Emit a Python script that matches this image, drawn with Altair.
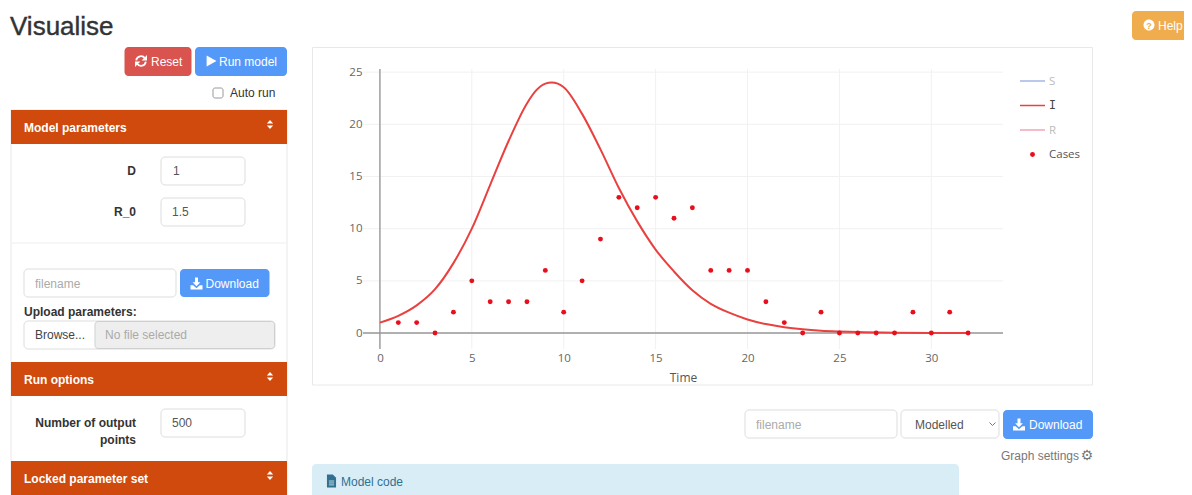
import altair as alt
import pandas as pd

# ---------- chart data ----------
curve_t = [0, 1, 2, 3, 4, 5, 6, 7, 8, 8.5, 9, 9.35, 10, 11, 12, 13, 14, 15, 16, 17, 18, 19, 20, 21, 22, 23, 24, 25,
           26, 28, 30, 32]
curve_i = [1, 1.65, 2.65, 4.2, 6.7, 10, 14.2, 18.4, 22.0, 23.25, 23.9, 24.0, 23.55, 21.0, 17.6, 13.9, 10.7, 8.0,
           5.9, 4.1, 2.8, 1.95, 1.3, 0.86, 0.56, 0.36, 0.23, 0.15, 0.09, 0.03, 0.01, 0.005]
case_t = list(range(1, 33))
case_n = [1, 1, 0, 2, 5, 3, 3, 3, 6, 2, 5, 9, 13, 12, 13, 11, 12, 6, 6, 6, 3, 1, 0, 2, 0, 0, 0, 0, 2, 0, 2, 0]
x_ticks = [0, 5, 10, 15, 20, 25, 30]
y_ticks = [0, 5, 10, 15, 20, 25]
zero = [0]

W, H = 1176, 487
UI = "Liberation Sans"
PLOT = "Open Sans"
ORANGE = "#cf4a0c"
BLUE = "#5599f8"
dummy = pd.DataFrame({"a": [0]})


def box(x1, y1, x2, y2, fill="#ffffff", stroke=None, r=0):
    kw = dict(fill=fill, cornerRadius=r)
    if stroke:
        kw.update(stroke=stroke, strokeWidth=1)
    return alt.Chart(dummy).mark_rect(**kw).encode(
        x=alt.value(x1 - 8), x2=alt.value(x2 - 8), y=alt.value(y1 - 8), y2=alt.value(y2 - 8))


def label(x, y, s, size=12, color="#333333", align="left", weight="normal", font=UI, **extra):
    return alt.Chart(dummy).mark_text(text=s, fontSize=size, color=color, align=align, baseline="middle",
                                      fontWeight=weight, font=font, **extra).encode(
        x=alt.value(x - 8), y=alt.value(y - 8))


def icon(x, y, path, px, fill=None, stroke=None, sw=1.5):
    kw = dict(shape=path, size=px * px, opacity=1)
    if fill:
        kw.update(filled=True, fill=fill, strokeWidth=0)
    else:
        kw.update(filled=False, stroke=stroke, strokeWidth=sw)
    return alt.Chart(dummy).mark_point(**kw).encode(x=alt.value(x - 8), y=alt.value(y - 8))


def hline(x1, x2, y, color, w=1.5):
    return alt.Chart(dummy).mark_rule(color=color, strokeWidth=w).encode(
        x=alt.value(x1 - 8), x2=alt.value(x2 - 8), y=alt.value(y - 8))


PLAY = "M-0.8,-1 L1,0 L-0.8,1 Z"
SORT = "M-0.7,-0.2 L0,-1 L0.7,-0.2 Z M-0.7,0.2 L0,1 L0.7,0.2 Z"
DOWN = ("M-0.25,-1 H0.25 V-0.2 H0.65 L0,0.45 L-0.65,-0.2 H-0.25 Z "
        "M-1,0.3 H-0.55 L0,0.8 L0.55,0.3 H1 V1 H-1 Z")
FILE = "M-0.7,-1 H0.2 L0.7,-0.5 V1 H-0.7 Z"
FILE_LINES = "M-0.4,0 H0.4 M-0.4,0.3 H0.4 M-0.4,0.6 H0.4"
SYNC_ARC = "M-0.8,-0.1 A0.8,0.8 0 0 1 0.65,-0.45 M0.8,0.1 A0.8,0.8 0 0 1 -0.65,0.45"
SYNC_HEAD = "M1,-1 V-0.1 H0.1 Z M-1,1 V0.1 H-0.1 Z"
CHEV = "M-1,-0.5 L0,0.5 L1,-0.5"

chrome = [
    label(10, 26.5, "Visualise", 26, "#333333", stroke="#333333", strokeWidth=0.4),
    # top buttons
    box(124.5, 47, 191.5, 76, "#d9534f", r=4),
    icon(141, 61, SYNC_ARC, 12, stroke="#ffffff", sw=1.8),
    icon(141, 61, SYNC_HEAD, 12, fill="#ffffff"),
    label(151, 61.5, "Reset", 12, "#ffffff"),
    box(195, 47, 287, 76, BLUE, r=4),
    icon(211, 61, PLAY, 11, fill="#ffffff"),
    label(219, 61.5, "Run model", 12, "#ffffff"),
    box(213, 88, 223, 98, "#ffffff", "#999999", 2),
    label(230, 93, "Auto run", 12, "#333333"),
    # left panel
    box(11, 110, 287, 520, "#ffffff", "#e8e8e8"),
    box(11, 110, 287, 144, ORANGE),
    label(24, 127.5, "Model parameters", 12, "#ffffff", weight="bold"),
    icon(270, 124.5, SORT, 9, fill="#ffffff"),
    label(136, 171, "D", 12, "#333333", "right", "bold"),
    box(161, 157, 245, 185, "#ffffff", "#dddddd", 4),
    label(173, 171, "1", 12, "#555555"),
    label(136, 212, "R_0", 12, "#333333", "right", "bold"),
    box(161, 198, 245, 226, "#ffffff", "#dddddd", 4),
    label(172, 212, "1.5", 12, "#555555"),
    hline(12, 286, 243, "#eeeeee", 1),
    box(24, 269, 176, 297, "#ffffff", "#dddddd", 4),
    label(35, 283.5, "filename", 12, "#aaaaaa"),
    box(180, 269, 269.5, 297, BLUE, r=4),
    icon(196.5, 283.5, DOWN, 12, fill="#ffffff"),
    label(205.5, 283.5, "Download", 12, "#ffffff"),
    label(24, 312, "Upload parameters:", 12, "#333333", weight="bold"),
    box(24, 321, 275, 349, "#ffffff", "#dddddd", 4),
    box(95, 321.5, 274.5, 348.5, "#eeeeee", "#cfcfcf", 3),
    label(35, 335, "Browse...", 12, "#444444"),
    label(105, 335, "No file selected", 12, "#aaaaaa"),
    box(11, 362, 287, 396, ORANGE),
    label(24, 379.5, "Run options", 12, "#ffffff", weight="bold"),
    icon(270, 376.5, SORT, 9, fill="#ffffff"),
    label(136, 423, "Number of output", 12, "#333333", "right", "bold"),
    label(136, 440, "points", 12, "#333333", "right", "bold"),
    box(161, 409, 245, 437, "#ffffff", "#dddddd", 4),
    label(172, 423, "500", 12, "#555555"),
    box(11, 461, 287, 520, ORANGE),
    label(24, 478.5, "Locked parameter set", 12, "#ffffff", weight="bold"),
    icon(270, 475.5, SORT, 9, fill="#ffffff"),
    # help
    box(1132, 11, 1210, 40, "#f0ad4e", r=4),
    icon(1149, 25, "M-1,0 A1,1 0 1 1 1,0 A1,1 0 1 1 -1,0 Z", 11, fill="#ffffff"),
    label(1149, 25.5, "?", 9, "#f0ad4e", "center", "bold"),
    label(1158, 26, "Help", 12, "#ffffff"),
    # chart frame
    box(312.5, 47.5, 1092.5, 385, "#ffffff", "#e8e8e8"),
    # under the chart
    box(745, 410, 897, 438, "#ffffff", "#dddddd", 4),
    label(756, 424.5, "filename", 12, "#aaaaaa"),
    box(901, 410, 999, 438, "#ffffff", "#dddddd", 4),
    label(915, 425, "Modelled", 12, "#555555"),
    icon(992.5, 424, CHEV, 6, stroke="#777777", sw=1),
    box(1003, 410, 1093, 439, BLUE, r=4),
    icon(1019, 424.5, DOWN, 12, fill="#ffffff"),
    label(1029, 425, "Download", 12, "#ffffff"),
    label(1001, 456, "Graph settings", 12, "#777777"),
    label(1087, 455.5, "\u2699", 14, "#777777", "center", font="DejaVu Sans"),
    box(312, 464, 959, 520, "#d9edf7", r=4),
    icon(331.5, 481, FILE, 13, fill="#31708f"),
    icon(331.5, 481, FILE_LINES, 13, stroke="#d9edf7", sw=0.8),
    label(341, 482, "Model code", 12, "#31708f"),
]

# ---------- plot ----------
x_scale = alt.Scale(domain=[-0.92, 33.9], range=[355, 995], nice=False, zero=False)
y_scale = alt.Scale(domain=[-1.53, 25.3], range=[341, 61], nice=False, zero=False)

x_axis = alt.Axis(values=x_ticks, offset=341 - H, domain=False, ticks=False, grid=False, labelPadding=3,
                  labelFont=PLOT, labelFontSize=11.5, labelColor="#666666", format="d", title="Time",
                  titleFont=PLOT, titleFontSize=12, titleFontWeight="normal", titleColor="#555555",
                  titlePadding=9, zindex=1)
y_axis = alt.Axis(values=y_ticks, offset=-355, domain=False, ticks=False, grid=False, labelPadding=1,
                  labelFont=PLOT, labelFontSize=11.5, labelColor="#666666", format="d", title=None, zindex=1)

x_enc = lambda f: alt.X(f, type="quantitative", scale=x_scale, axis=x_axis)
y_enc = lambda f: alt.Y(f, type="quantitative", scale=y_scale, axis=y_axis)

vgrid = alt.Chart(pd.DataFrame({"t": x_ticks})).mark_rule(color="#f1f1f1", strokeWidth=1).encode(
    x=x_enc("t"), y=alt.value(61), y2=alt.value(341))
hgrid = alt.Chart(pd.DataFrame({"v": y_ticks})).mark_rule(color="#f1f1f1", strokeWidth=1).encode(
    y=y_enc("v"), x=alt.value(355), x2=alt.value(995))
zero_v = alt.Chart(pd.DataFrame({"t": zero})).mark_rule(color="#999999", strokeWidth=1.4).encode(
    x=x_enc("t"), y=alt.value(61), y2=alt.value(341))
zero_h = alt.Chart(pd.DataFrame({"v": zero})).mark_rule(color="#999999", strokeWidth=1.4).encode(
    y=y_enc("v"), x=alt.value(355), x2=alt.value(995))
line = alt.Chart(pd.DataFrame({"t": curve_t, "i": curve_i})).mark_line(
    color="#e8413f", strokeWidth=2, interpolate="monotone").encode(x=x_enc("t"), y=y_enc("i"))
pts = alt.Chart(pd.DataFrame({"t": case_t, "n": case_n})).mark_circle(
    color="#e80f1c", size=24, opacity=1).encode(x=x_enc("t"), y=y_enc("n"))

legend = [
    hline(1020, 1045, 81, "#a3b7e3"),
    label(1049, 81.5, "S", 11.5, "#bbbbbb", font=PLOT),
    hline(1020, 1045, 105.5, "#e8413f"),
    label(1049, 105.5, "I", 11.5, "#444444", font="DejaVu Sans Mono"),
    hline(1020, 1045, 130, "#f0a5b8"),
    label(1049, 130.5, "R", 11.5, "#bbbbbb", font=PLOT),
    alt.Chart(dummy).mark_circle(color="#e80f1c", size=24, opacity=1).encode(
        x=alt.value(1032.5 - 8), y=alt.value(154.5 - 8)),
    label(1049, 154.5, "Cases", 11.5, "#555555", font=PLOT),
]

chart = alt.layer(*chrome, vgrid, hgrid, zero_v, zero_h, line, pts, *legend).properties(
    width=W, height=H, padding=0, autosize=alt.AutoSizeParams(type="none"),
    background="#ffffff").configure_view(stroke=None)

chart.save("out.html", embed_options={"renderer": "svg", "actions": False})
